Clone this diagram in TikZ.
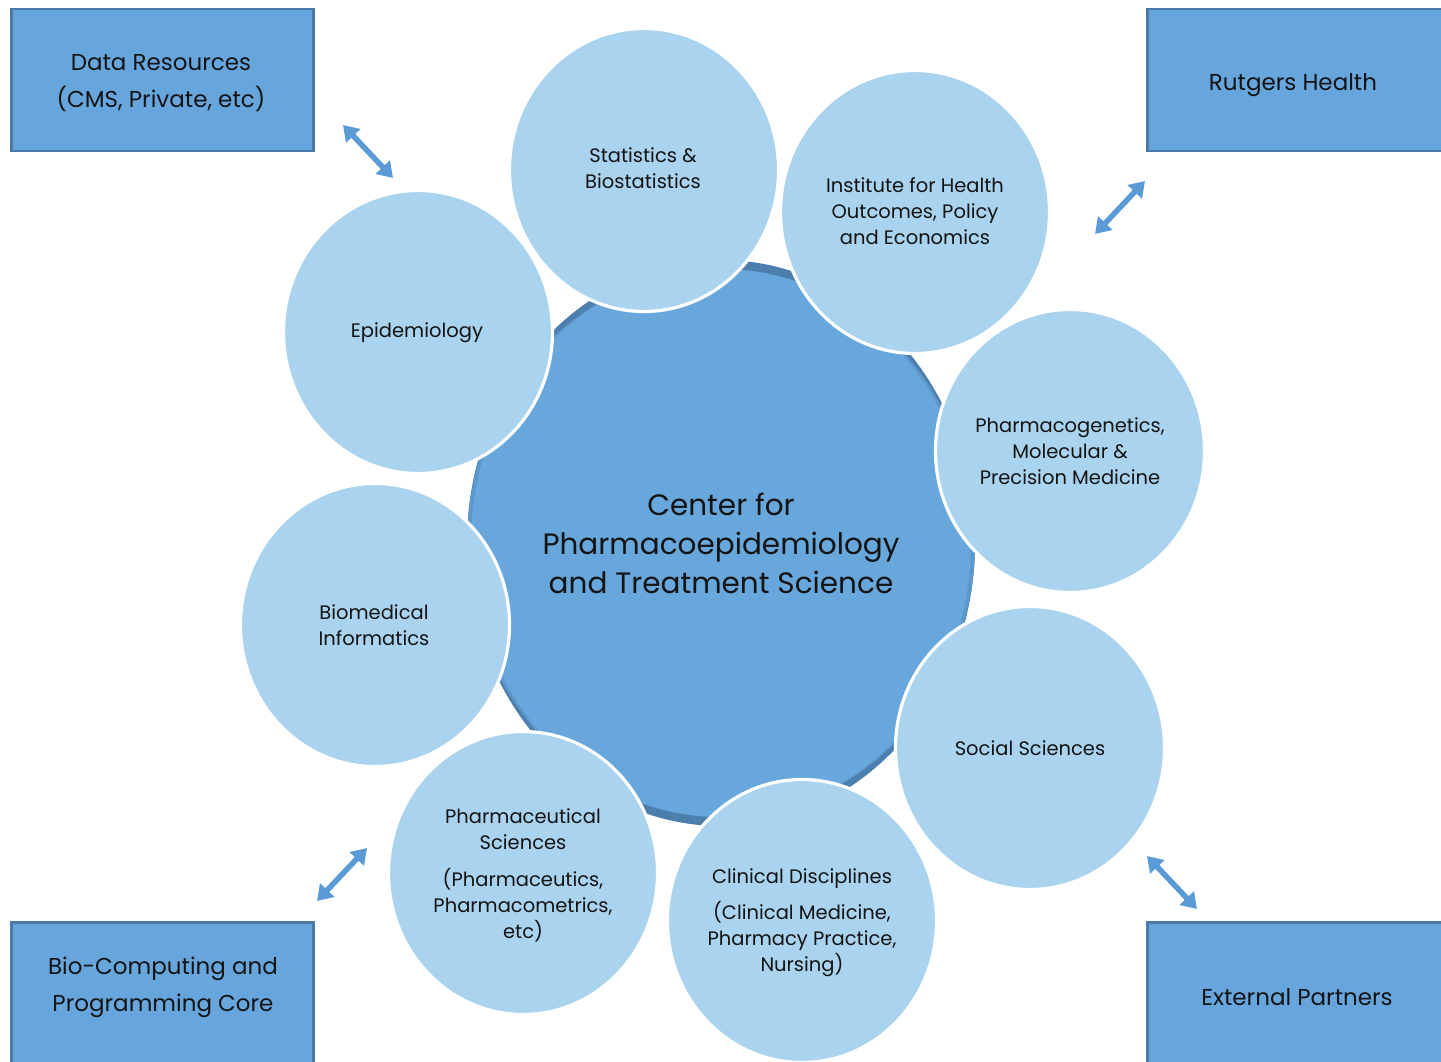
\documentclass[tikz,border=0pt]{standalone}
\usepackage{fontspec}
\setmainfont{Poppins}
\usetikzlibrary{arrows.meta,shapes.geometric}
\definecolor{boxfill}{HTML}{66A6DD}
\definecolor{boxline}{HTML}{4A7BA8}
\definecolor{corefill}{HTML}{67A7DC}
\definecolor{corerim}{HTML}{4C7FAE}
\definecolor{coremid}{HTML}{5D98CD}
\definecolor{satfill}{HTML}{A9D3EE}
\definecolor{arrowc}{HTML}{5B9BD5}
\definecolor{txt}{HTML}{141414}
\tikzset{
  sat/.style={ellipse, fill=satfill, draw=white, line width=3.2pt, inner sep=0pt,
    minimum width=269pt, minimum height=283pt},
  sattext/.style={align=center, text=txt, inner sep=0pt,
    font=\fontsize{19.5}{26}\selectfont},
  corebox/.style={rectangle, fill=boxfill, draw=boxline, line width=2.5pt,
    anchor=north west, inner sep=0pt},
  boxtext/.style={align=center, text=txt, inner sep=0pt,
    font=\fontsize{23}{37}\selectfont},
  coreshape/.style={ellipse, inner sep=0pt},
  link/.style={draw=arrowc, line width=5.5pt,
    {Triangle[width=19pt,length=15pt]}-{Triangle[width=19pt,length=15pt]}},
}
\begin{document}
\begin{tikzpicture}[x=1pt,y=-1pt]
\clip (0,0) rectangle (1441,1062);
\fill[white] (0,0) rectangle (1441,1062);

% corner boxes
\node[corebox, minimum width=302pt, minimum height=142pt] (drbox) at (10,8) {};
\node[boxtext] (dr) at (161,83) {Data Resources\\(CMS, Private, etc)};
\node[corebox, minimum width=310pt, minimum height=142pt] (rhbox) at (1146,8) {};
\node[boxtext] (rh) at (1293,85) {Rutgers Health};
\node[corebox, minimum width=302pt, minimum height=160pt] (bcbox) at (10,921) {};
\node[boxtext] (bc) at (163,987) {Bio-Computing and\\Programming Core};
\node[corebox, minimum width=310pt, minimum height=160pt] (epbox) at (1146,921) {};
\node[boxtext] (ep) at (1297,997) {External Partners};

% central ellipse with darker rim (dark at top and bottom, softer at the sides)
\node[coreshape, fill=corerim, minimum width=508pt, minimum height=566pt] (corerimnode) at (721,543) {};
\node[coreshape, fill=coremid, minimum width=508pt, minimum height=548pt] (coremidnode) at (721,543) {};
\node[coreshape, fill=corefill, minimum width=500pt, minimum height=548pt] (core) at (721,543) {};
\node[align=center, text=txt, inner sep=0pt, font=\fontsize{29.5}{39}\selectfont] (coretext) at (core.center)
  {Center for\\Pharmacoepidemiology\\and Treatment Science};

% satellites
\node[sat] (stat) at (644,170) {};
\node[sat] (ihop) at (915,212) {};
\node[sat] (epi) at (418,332) {};
\node[sat] (pgx) at (1070,451) {};
\node[sat] (bmi) at (375,625) {};
\node[sat] (soc) at (1030,748) {};
\node[sat] (phs) at (523,873) {};
\node[sat] (cli) at (802,921) {};
\node[sattext] (statt) at (643,168) {Statistics \&\\Biostatistics};
\node[sattext] (ihopt) at (915,211) {Institute for Health\\Outcomes, Policy\\and Economics};
\node[sattext] (epit) at (417,333) {Epidemiology};
\node[sattext] (pgxt) at (1070,451) {Pharmacogenetics,\\Molecular \&\\Precision Medicine};
\node[sattext] (bmit) at (374,625) {Biomedical\\Informatics};
\node[sattext] (soct) at (1030,748) {Social Sciences};
\node[sattext] (phst) at (523,875) {Pharmaceutical\\Sciences\\[11pt](Pharmaceutics,\\Pharmacometrics,\\etc)};
\node[sattext] (clit) at (802,923) {Clinical Disciplines\\[10pt](Clinical Medicine,\\Pharmacy Practice,\\Nursing)};

% arrows
\coordinate (dra) at (343,125); \coordinate (drb) at (393,178);
\coordinate (rha) at (1145,181); \coordinate (rhb) at (1095,234);
\coordinate (bca) at (367,848); \coordinate (bcb) at (317,901);
\coordinate (epa) at (1147,856); \coordinate (epb) at (1197,909);
\draw[link] (dra) -- (drb);
\draw[link] (rha) -- (rhb);
\draw[link] (bca) -- (bcb);
\draw[link] (epa) -- (epb);
\end{tikzpicture}
\end{document}
